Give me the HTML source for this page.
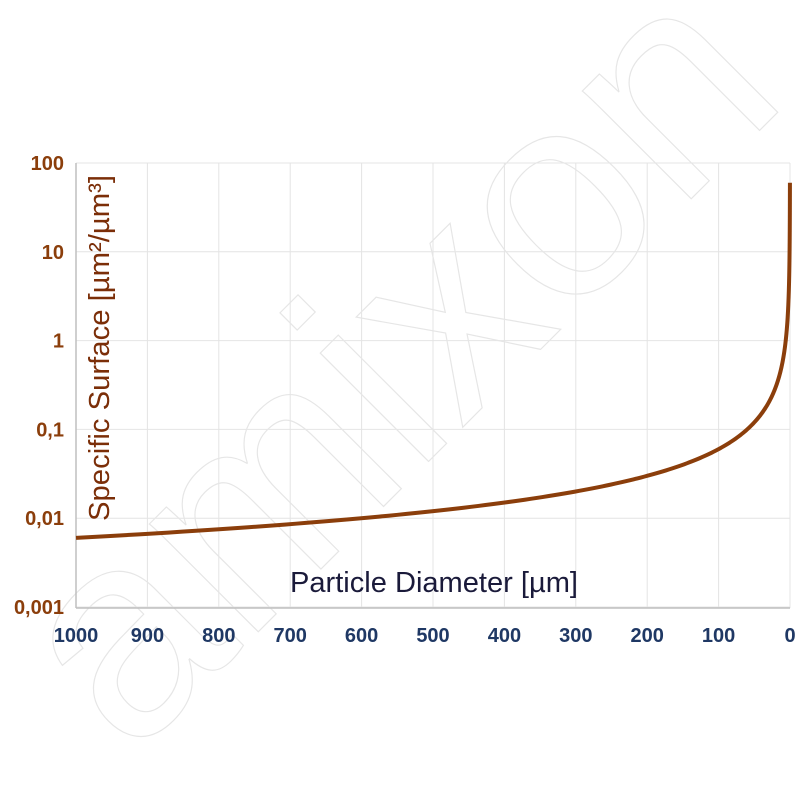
<!DOCTYPE html>
<html><head><meta charset="utf-8"><style>
html,body{margin:0;padding:0;background:#fff;}
svg{display:block;font-family:"Liberation Sans",sans-serif;}
</style></head><body>
<svg id="s" width="800" height="800" viewBox="0 0 800 800">
<g stroke="#e4e4e4" stroke-width="1" fill="none" id="grid"></g>
<text x="130" y="760" transform="rotate(-45 130 760)" font-size="290" fill="none" stroke="#e6e6e6" stroke-width="1.2" font-family="Liberation Sans,sans-serif">amixon</text>
<line x1="76" y1="163" x2="76" y2="608" stroke="#bfbfbf" stroke-width="1.5"/>
<line x1="76" y1="608" x2="790" y2="608" stroke="#bfbfbf" stroke-width="1.5"/>
<path id="curve" fill="none" stroke="#8b3e0b" stroke-width="4" stroke-linejoin="round"/>
<g font-weight="bold" font-size="20" fill="#8b3e0b" text-anchor="end" id="yl"></g>
<g font-weight="bold" font-size="20" fill="#1f3864" text-anchor="middle" id="xl"></g>
<text x="109" y="521" transform="rotate(-90 109 521)" font-size="29" textLength="346" lengthAdjust="spacingAndGlyphs" fill="#7b2e08">Specific Surface [µm²/µm³]</text>
<text x="290" y="592" font-size="29" textLength="288" lengthAdjust="spacingAndGlyphs" fill="#1a1a3a">Particle Diameter [µm]</text>
</svg>
<script>
var ns="http://www.w3.org/2000/svg";
function X(d){return 790-d*0.714;}
function Y(v){return 163+(2-Math.log10(v))*88.8;}
var g=document.getElementById('grid');
for(var i=0;i<=10;i++){var l=document.createElementNS(ns,'line');var x=X(i*100);l.setAttribute('x1',x);l.setAttribute('x2',x);l.setAttribute('y1',163);l.setAttribute('y2',608);g.appendChild(l);}
var labs=['100','10','1','0,1','0,01','0,001'];
var yl=document.getElementById('yl');
for(var i=0;i<6;i++){var y=163+i*88.8;var l=document.createElementNS(ns,'line');l.setAttribute('x1',76);l.setAttribute('x2',790);l.setAttribute('y1',y);l.setAttribute('y2',y);g.appendChild(l);
var t=document.createElementNS(ns,'text');t.setAttribute('x',64);t.setAttribute('y',y+7);t.textContent=labs[i];yl.appendChild(t);}
var xl=document.getElementById('xl');
for(var i=0;i<=10;i++){var t=document.createElementNS(ns,'text');t.setAttribute('x',X(i*100));t.setAttribute('y',642);t.textContent=i*100;xl.appendChild(t);}
var p=[];
for(var k=0;k<=400;k++){var ld=-1+4*k/400;var d=Math.pow(10,ld);p.push((k?'L':'M')+X(d).toFixed(2)+' '+Y(6/d).toFixed(2));}
document.getElementById('curve').setAttribute('d',p.join(' '));
</script>
</body></html>
